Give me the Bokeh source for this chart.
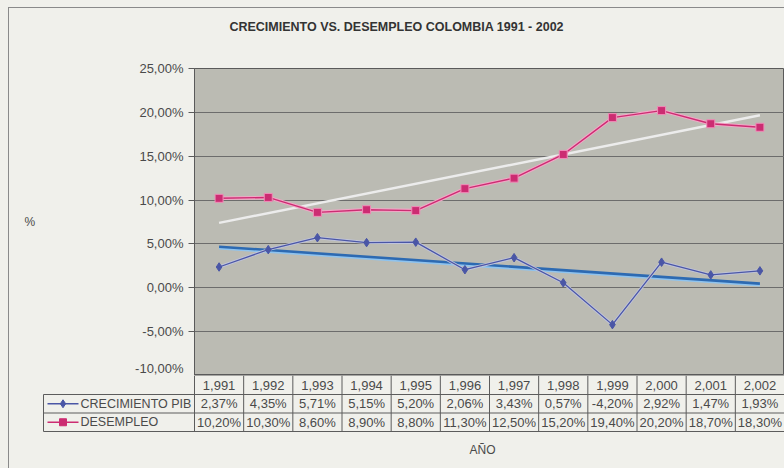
import numpy as np
from bokeh.plotting import figure
from bokeh.models import Range1d, FixedTicker, CustomJSTickFormatter, Div
from bokeh.layouts import column
from bokeh.embed import file_html
from bokeh.resources import INLINE
from bokeh.core.properties import value

# ---------------- data ----------------
title_text = "CRECIMIENTO VS. DESEMPLEO COLOMBIA 1991 - 2002"
years = [1991, 1992, 1993, 1994, 1995, 1996, 1997, 1998, 1999, 2000, 2001, 2002]
crecimiento_pib = [2.37, 4.35, 5.71, 5.15, 5.20, 2.06, 3.43, 0.57, -4.20, 2.92, 1.47, 1.93]
desempleo = [10.20, 10.30, 8.60, 8.90, 8.80, 11.30, 12.50, 15.20, 19.40, 20.20, 18.70, 18.30]
series_names = ["CRECIMIENTO PIB", "DESEMPLEO"]
y_ticks = [-10, -5, 0, 5, 10, 15, 20, 25]
x_title = "AÑO"
y_title = "%"

# ---------------- style ----------------
FONT = "Liberation Sans"
BG = "#f0f0eb"
PLOT_BG = "#bbbbb3"
GRID = "#6c6c6c"
TXT = "#4a4a4a"
PIB_COL = "#4a56a6"
DES_COL = "#cc2c72"

OFFX = 9          # page x of figure left edge (margin + border)
W = 775
FR_L = 185
TITLE_H = 46
FR_TOP = 14
FR_H = 307
n = len(years)
col_w = (W - FR_L) / n

idx = np.arange(n)
xc = idx + 0.5

def fmt(v):
    return f"{v:.2f}".replace(".", ",") + "%"

# ---------------- title ----------------
title_div = Div(
    text=(f'<div style="width:{W}px;height:{TITLE_H}px;box-sizing:border-box;text-align:center;'
          f'padding-top:11px;font-family:\'{FONT}\';font-size:12.5px;font-weight:bold;color:#333333;">'
          f'{title_text}</div>'),
    width=W, height=TITLE_H, margin=0, styles={"background-color": BG})

# ---------------- chart ----------------
pA = figure(width=W, height=FR_TOP + FR_H, x_range=Range1d(0, n),
            y_range=Range1d(min(y_ticks), max(y_ticks)),
            output_backend="svg", toolbar_location=None,
            min_border_left=FR_L, min_border_right=0, min_border_top=FR_TOP,
            min_border_bottom=0, frame_align=False)
pA.background_fill_color = PLOT_BG
pA.border_fill_color = BG
pA.outline_line_color = "#5a5a5a"
pA.xaxis.visible = False
pA.xgrid.visible = False
pA.ygrid.ticker = FixedTicker(ticks=y_ticks)
pA.ygrid.grid_line_color = GRID
pA.ygrid.grid_line_width = 1

ya = pA.yaxis[0]
ya.ticker = FixedTicker(ticks=y_ticks)
ya.formatter = CustomJSTickFormatter(code="return tick.toFixed(2).replace('.', ',') + '%';")
ya.major_label_text_font = FONT
ya.major_label_text_font_size = "13px"
ya.major_label_text_color = TXT
ya.major_tick_out = 6
ya.major_tick_in = 0
ya.minor_tick_line_color = None
ya.axis_line_color = "#5a5a5a"
ya.major_tick_line_color = "#5a5a5a"
ya.axis_label = y_title
ya.axis_label_orientation = "horizontal"
ya.axis_label_standoff = 97
ya.axis_label_text_font = FONT
ya.axis_label_text_font_style = "normal"
ya.axis_label_text_font_size = "12px"
ya.axis_label_text_color = TXT

# trend lines (least squares, as Excel)
k_p = np.polyfit(idx, crecimiento_pib, 1)
k_d = np.polyfit(idx, desempleo, 1)
tx = np.array([idx[0], idx[-1]])
pA.line(tx + 0.5, np.polyval(k_d, tx), line_color="#ececec", line_width=2.5)

# desempleo series
pA.line(xc, desempleo, line_color="#f2a6c6", line_width=3.5)
pA.line(xc, desempleo, line_color=DES_COL, line_width=1.4)
pA.scatter(xc, desempleo, marker="square", size=8, fill_color=DES_COL, line_color="#f08cb8", line_width=1)

# PIB trend
pA.line(tx + 0.5, np.polyval(k_p, tx) - 0.15, line_color="#8fc3ee", line_width=3)
pA.line(tx + 0.5, np.polyval(k_p, tx), line_color="#2d6ab2", line_width=2.6)

# PIB series
pA.line(xc, crecimiento_pib, line_color="#c0c4dc", line_width=3)
pA.line(xc, crecimiento_pib, line_color=PIB_COL, line_width=1.3)
pA.scatter(xc, crecimiento_pib, marker="diamond", size=8.5, fill_color=PIB_COL, line_color=PIB_COL)

# ---------------- data table ----------------
HB = 93
pB = figure(width=W, height=HB, x_range=Range1d(-FR_L / col_w, n),
            y_range=Range1d(HB, 0), output_backend="svg", toolbar_location=None,
            min_border=0, min_border_left=0, min_border_right=0,
            min_border_top=0, min_border_bottom=0, frame_align=False)
pB.axis.visible = False
pB.grid.visible = False
pB.outline_line_color = None
pB.background_fill_color = BG
pB.border_fill_color = BG

def px(page_x):
    return (page_x - OFFX - FR_L) / col_w

row_edges = [0, 19, 37.5, 56]
row_mid = [(row_edges[i] + row_edges[i + 1]) / 2 for i in range(3)]
box_left = px(43)
LINE = "#5c5c5c"

# vertical lines between columns
edges = np.arange(n + 1)
pB.segment(x0=edges, y0=[row_edges[0]] * (n + 1), x1=edges, y1=[row_edges[3]] * (n + 1),
           line_color=LINE, line_width=1)
pB.segment(x0=[box_left], y0=[row_edges[1]], x1=[box_left], y1=[row_edges[3]],
           line_color=LINE, line_width=1)
# horizontal lines
pB.segment(x0=[0, box_left, box_left, box_left], y0=[row_edges[0], row_edges[1], row_edges[2], row_edges[3]],
           x1=[n, n, n, n], y1=[row_edges[0], row_edges[1], row_edges[2], row_edges[3]],
           line_color=LINE, line_width=1)

year_labels = [f"{y:,}" for y in years]
common = dict(text_font=value(FONT), text_font_size="13px", text_color=TXT,
              text_align="center", text_baseline="middle")
pB.text(xc, [row_mid[0]] * n, text=year_labels, **common)
pB.text(xc, [row_mid[1]] * n, text=[fmt(v) for v in crecimiento_pib], **common)
pB.text(xc, [row_mid[2]] * n, text=[fmt(v) for v in desempleo], **common)

# legend keys in table
kx0 = px(47)
kx1 = px(78)
kxm = (kx0 + kx1) / 2
pB.line([kx0, kx1], [row_mid[1]] * 2, line_color=PIB_COL, line_width=1.4)
pB.scatter([kxm], [row_mid[1]], marker="diamond", size=8, fill_color=PIB_COL, line_color=PIB_COL)
pB.line([kx0, kx1], [row_mid[2]] * 2, line_color=DES_COL, line_width=1.4)
pB.scatter([kxm], [row_mid[2]], marker="square", size=7, fill_color=DES_COL, line_color=DES_COL)
tx_l = px(80)
pB.text([tx_l, tx_l], [row_mid[1], row_mid[2]], text=series_names,
        text_font=value(FONT), text_font_size="12.5px", text_color=TXT,
        text_align="left", text_baseline="middle")

pB.text([px(482)], [74], text=[x_title], text_font=value(FONT), text_font_size="12px",
        text_color=TXT, text_align="center", text_baseline="middle")

inner = column(title_div, pA, pB, spacing=0,
               styles={"border-left": "1px solid #8a8a8a", "border-top": "1px solid #8a8a8a",
                       "background-color": BG})
layout = column(inner, spacing=0,
                styles={"background-color": BG, "padding-left": "8px", "padding-top": "7px"})

open("out.html", "w").write(file_html(layout, INLINE))
